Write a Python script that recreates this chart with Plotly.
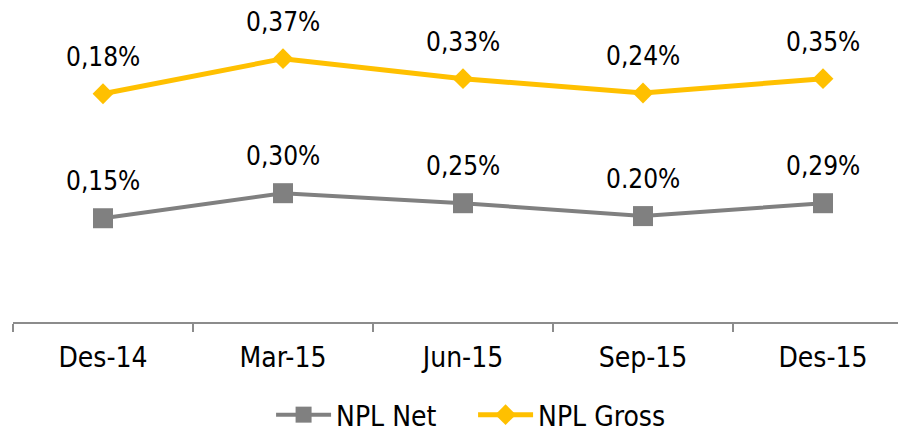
import plotly.graph_objects as go

categories = ["Des-14", "Mar-15", "Jun-15", "Sep-15", "Des-15"]
# plotted positions
npl_net = [0.145, 0.180, 0.166, 0.148, 0.166]
npl_gross = [0.319, 0.368, 0.340, 0.320, 0.340]
# data label texts as printed on the chart
net_labels = ["0,15%", "0,30%", "0,25%", "0.20%", "0,29%"]
gross_labels = ["0,18%", "0,37%", "0,33%", "0,24%", "0,35%"]

FONT = "DejaVu Sans Condensed, DejaVu Sans, sans-serif"
GRAY = "#808080"
GOLD = "#FFC000"

fig = go.Figure()
fig.add_trace(go.Scatter(
    x=categories, y=npl_net, name="NPL Net", mode="lines+markers",
    line=dict(color=GRAY, width=4),
    marker=dict(symbol="square", size=20, color=GRAY),
))
fig.add_trace(go.Scatter(
    x=categories, y=npl_gross, name="NPL Gross", mode="lines+markers",
    line=dict(color=GOLD, width=5),
    marker=dict(symbol="diamond", size=16, color=GOLD),
))

for xs, ys, txts in [(categories, npl_net, net_labels), (categories, npl_gross, gross_labels)]:
    for xv, yv, t in zip(xs, ys, txts):
        fig.add_annotation(x=xv, y=yv, text=t, showarrow=False, yshift=37,
                           xanchor="center", yanchor="middle",
                           font=dict(family=FONT, size=26, color="black"))

# page body has an 8px margin, so the figure is sized to fit the 906x428 window
fig.update_layout(
    width=898, height=420,
    margin=dict(l=5, r=0, t=0, b=106, autoexpand=False),
    paper_bgcolor="white", plot_bgcolor="white",
    font=dict(family=FONT, size=26, color="black"),
    showlegend=True,
    legend=dict(orientation="h", x=0.289, xanchor="left", y=-0.296, yanchor="middle",
                itemwidth=55, entrywidth=132, entrywidthmode="pixels",
                font=dict(family=FONT, size=28, color="black"),
                bgcolor="rgba(0,0,0,0)"),
    xaxis=dict(type="category", range=[-0.5, 4.461], showgrid=False, zeroline=False,
               automargin=False,
               showline=True, linecolor="#8c8c8c", linewidth=2,
               ticks="outside", tickson="boundaries", ticklen=8, tickcolor="#8c8c8c", tickwidth=2,
               ticklabelstandoff=9,
               tickfont=dict(family=FONT, size=28, color="black")),
    yaxis=dict(range=[0, 0.4388], visible=False, showgrid=False, zeroline=False, automargin=False),
)

fig.write_html("out.html")
